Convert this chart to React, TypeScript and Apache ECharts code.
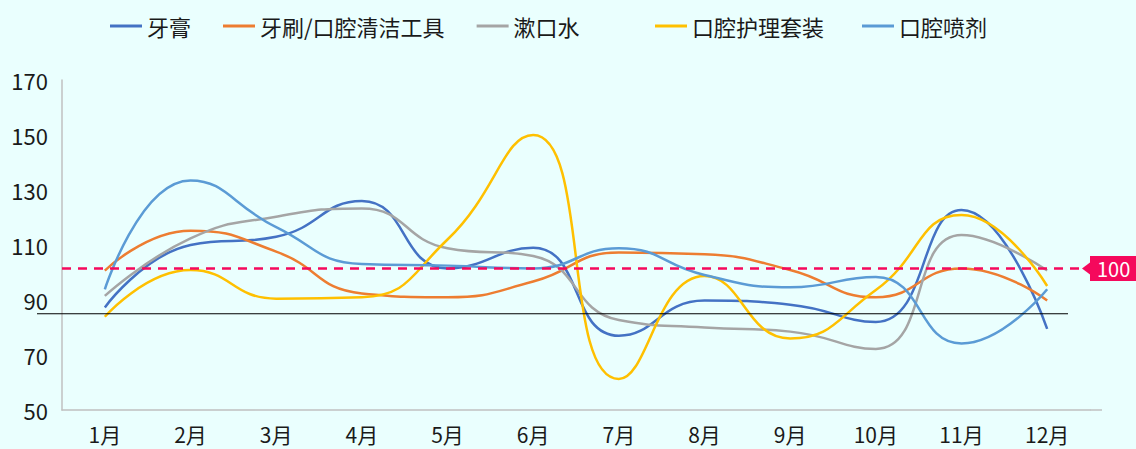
import React, { useEffect, useRef } from "react";
import * as echarts from "echarts";

const months = ["1月", "2月", "3月", "4月", "5月", "6月", "7月", "8月", "9月", "10月", "11月", "12月"];
const seriesNames = ["牙膏", "牙刷/口腔清洁工具", "漱口水", "口腔护理套装", "口腔喷剂"];
const toothpaste = [87.3, 110, 113, 126, 101.5, 109, 77, 89.8, 88.3, 82, 122.7, 79.5];
const toothbrush = [100.7, 115.2, 107.6, 92.4, 91, 96.7, 107.3, 106.6, 100.9, 91, 101.5, 89.8];
const mouthwash = [91.5, 112.4, 120.3, 123.3, 108.8, 106, 82.7, 80, 78.5, 72.2, 113.6, 100.7];
const careSet = [83.9, 100.9, 90.5, 91, 112, 150, 61.3, 98.7, 76, 93.6, 120.9, 95.1];
const spray = [93.9, 133.5, 116.5, 103.1, 102.5, 101.5, 108.8, 99.1, 94.6, 98.4, 74.2, 93.9];
const colors = ["#4472C4", "#ED7D31", "#A5A5A5", "#FFC000", "#5B9BD5"];
const yMin = 50;
const yMax = 170;
const yInterval = 20;
const TARGET = 101.5;
const TARGET_LABEL = "100";
const BASELINE = 85;

const FONT = "'Noto Sans CJK SC', 'Noto Sans', sans-serif";

export default function App() {
  const ref = useRef<HTMLDivElement>(null);
  useEffect(() => {
    if (!ref.current) return;
    const chart = echarts.init(ref.current, null, { renderer: "svg" });
    const values = [toothpaste, toothbrush, mouthwash, careSet, spray];
    const series: any[] = values.map((d, i) => ({
      name: seriesNames[i],
      type: "line",
      data: d,
      smooth: 0.5,
      symbol: "none",
      lineStyle: { width: 2.5, color: colors[i] },
      itemStyle: { color: colors[i] },
      z: 2,
    }));
    series[0].markLine = {
      silent: true,
      symbol: ["none", "triangle"],
      symbolSize: [12, 8],
      symbolRotate: 90,
      lineStyle: { color: "#f5095c", type: [9, 7], width: 2.5 },
      itemStyle: { color: "#f5095c" },
      label: {
        show: true,
        position: "end",
        formatter: TARGET_LABEL,
        backgroundColor: "#f5095c",
        color: "#ffffff",
        fontSize: 20,
        fontFamily: FONT,
        padding: [3, 7, 2, 7],
        distance: 4,
      },
      data: [[{ yAxis: TARGET, x: 62 }, { yAxis: TARGET, x: 1086 }]],
    };
    const legendCommon = {
      top: 10,
      icon: "rect",
      itemWidth: 32,
      itemHeight: 3,
      textStyle: { fontSize: 22, color: "#1a1a1a", fontFamily: FONT },
    };
    chart.setOption({
      animation: false,
      backgroundColor: "#eafffe",
      legend: [
        { ...legendCommon, left: 105, itemGap: 32, data: seriesNames.slice(0, 3) },
        { ...legendCommon, left: 650, itemGap: 38, data: seriesNames.slice(3) },
      ],
      grid: { left: 62, top: 80, width: 1028, height: 330, containLabel: false },
      xAxis: {
        type: "category",
        data: months,
        boundaryGap: true,
        axisLine: { show: true, lineStyle: { color: "#c0c0c0", width: 1.5 } },
        axisTick: { show: false },
        axisLabel: { fontSize: 21, lineHeight: 22, color: "#1a1a1a", fontFamily: FONT, margin: 13 },
      },
      yAxis: {
        type: "value",
        min: yMin,
        max: yMax,
        interval: yInterval,
        axisLine: { show: true, lineStyle: { color: "#c0c0c0", width: 1.5 } },
        axisTick: { show: false },
        splitLine: { show: false },
        axisLabel: { fontSize: 22, color: "#1a1a1a", fontFamily: FONT, margin: 14 },
      },
      series,
    });
    const yBase = chart.convertToPixel({ yAxisIndex: 0 }, BASELINE) as number;
    const yBottom = chart.convertToPixel({ yAxisIndex: 0 }, yMin) as number;
    chart.setOption({
      graphic: [
        {
          type: "line",
          shape: { x1: 37, y1: yBase, x2: 1068, y2: yBase },
          style: { stroke: "#000000", lineWidth: 1.2 },
          z: 10,
          silent: true,
        },
        {
          type: "line",
          shape: { x1: 1090, y1: yBottom, x2: 1102, y2: yBottom },
          style: { stroke: "#c0c0c0", lineWidth: 1.5 },
          silent: true,
        },
      ],
    });
    return () => chart.dispose();
  }, []);
  return <div ref={ref} style={{ position: "fixed", left: 0, top: 0, width: 1136, height: 449 }} />;
}
